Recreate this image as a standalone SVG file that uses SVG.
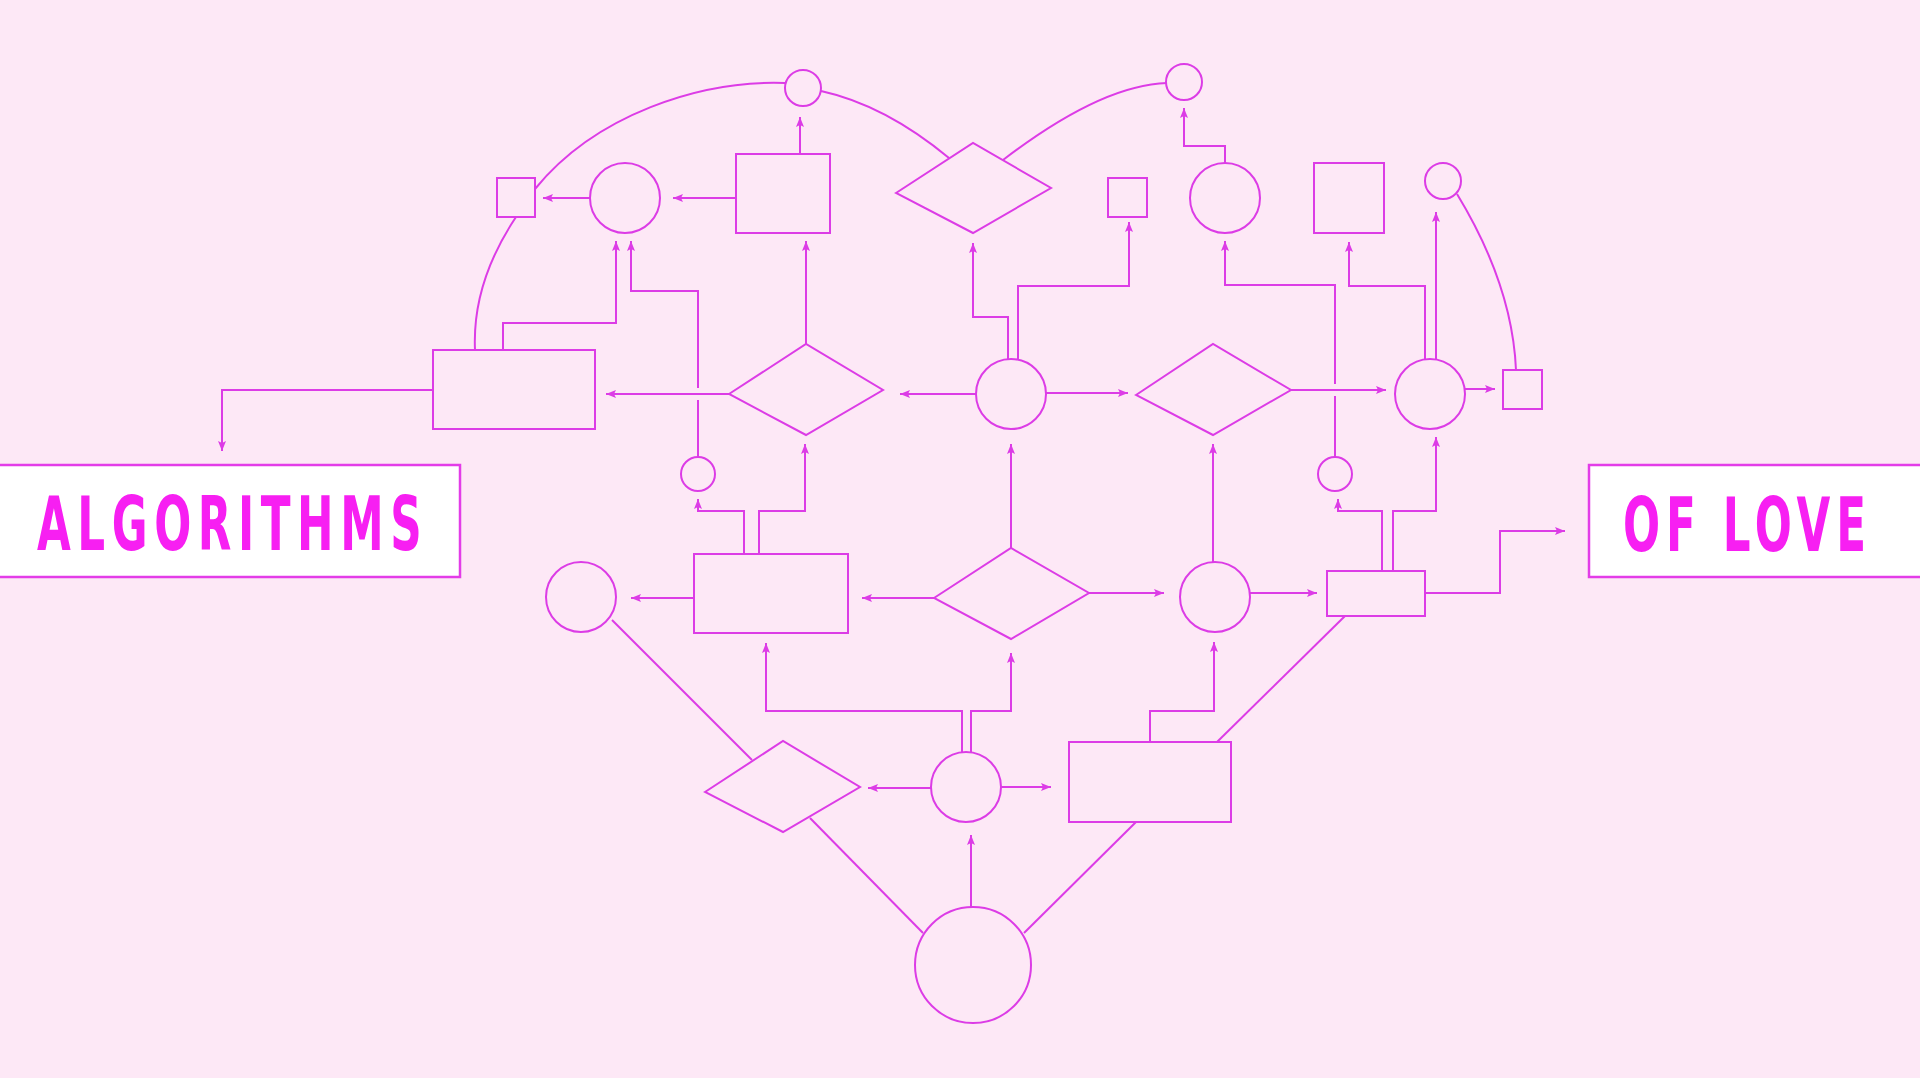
<svg xmlns="http://www.w3.org/2000/svg" width="1920" height="1078" viewBox="0 0 1920 1078">
<style>
.n{fill:none;stroke:#dc3ce6;stroke-width:2}
.c{fill:none;stroke:#dc3ce6;stroke-width:2}
.a{marker-end:url(#ah)}
.lb{fill:#ffffff;stroke:#e33ce8;stroke-width:2.5}
.t{fill:#f71ff2;font-family:"DejaVu Sans","Liberation Sans",sans-serif;font-weight:bold;font-size:74px}
</style>
<defs>
<marker id="ah" viewBox="0 0 10 8" refX="10" refY="4" markerWidth="10" markerHeight="8" markerUnits="userSpaceOnUse" orient="auto">
<path d="M0,0 L10,4 L0,8 L2,4 z" fill="#dc3ce6"/>
</marker>
</defs>
<rect width="1920" height="1078" fill="#fde8f6"/>

<g id="label-algorithms">
<rect class="lb" x="-3" y="465" width="463" height="112"/>
<text class="t" transform="translate(37,550) scale(0.59,1)" x="0" y="0" textLength="652" lengthAdjust="spacing">ALGORITHMS</text>
</g>
<g id="label-of-love">
<rect class="lb" x="1589" y="465" width="335" height="112"/>
<text class="t" transform="translate(1623,551) scale(0.59,1)" x="0" y="0" textLength="412" lengthAdjust="spacing">OF LOVE</text>
</g>

<g id="connectors">
<path class="c a" d="M736,198 H673"/>
<path class="c a" d="M590,198 H543"/>
<path class="c a" d="M800,154 V117"/>
<path class="c a" d="M503,350 V323 H616 V241"/>
<path class="c" d="M698,457 V400"/>
<path class="c a" d="M698,388 V291 H631 V241"/>
<path class="c a" d="M729,394 H606"/>
<path class="c a" d="M806,344 V241"/>
<path class="c a" d="M433,390 H222 V451"/>
<path class="c a" d="M976,394 H900"/>
<path class="c a" d="M1008,359 V317 H973 V243"/>
<path class="c a" d="M1018,359 V286 H1129 V222"/>
<path class="c a" d="M1046,393 H1128"/>
<path class="c a" d="M1225,163 V146 H1184 V108"/>
<path class="c" d="M1335,456 V396"/>
<path class="c a" d="M1335,384 V285 H1225 V241"/>
<path class="c a" d="M1291,390 H1386"/>
<path class="c a" d="M1425,359 V286 H1349 V242"/>
<path class="c a" d="M1436,359 V212"/>
<path class="c a" d="M1465,389 H1495"/>
<path class="c a" d="M1011,548 V444"/>
<path class="c a" d="M1213,562 V444"/>
<path class="c a" d="M934,598 H862"/>
<path class="c a" d="M1089,593 H1164"/>
<path class="c a" d="M1250,593 H1317"/>
<path class="c a" d="M1425,593 H1500 V531 H1565"/>
<path class="c a" d="M1382,571 V511 H1338 V499"/>
<path class="c a" d="M1393,571 V511 H1436 V437"/>
<path class="c a" d="M694,598 H631"/>
<path class="c a" d="M744,554 V511 H698 V499"/>
<path class="c a" d="M759,554 V511 H805 V444"/>
<path class="c a" d="M962,752 V711 H766 V643"/>
<path class="c a" d="M971,752 V711 H1011 V653"/>
<path class="c a" d="M931,788 H868"/>
<path class="c a" d="M1001,787 H1051"/>
<path class="c a" d="M1150,742 V711 H1214 V642"/>
<path class="c a" d="M971,907 V835"/>
<path class="c" d="M612,620 L752,760"/>
<path class="c" d="M810,818 L923,933"/>
<path class="c" d="M1024,933 L1136,822"/>
<path class="c" d="M1217,742 L1345,616"/>
<path class="c" d="M475,350 Q472,283 516,217"/>
<path class="c" d="M535,189 C595,115 700,80 785,83"/>
<path class="c" d="M821,91 Q885,105 949,158"/>
<path class="c" d="M1003,160 Q1101,85 1167,83"/>
<path class="c" d="M1457,194 C1485,240 1513,300 1516,370"/>
</g>

<g id="c1"><circle class="n" cx="625" cy="198" r="35"/></g>
<g id="c2"><circle class="n" cx="803" cy="88" r="18"/></g>
<g id="c3"><circle class="n" cx="1184" cy="82" r="18"/></g>
<g id="c4"><circle class="n" cx="1225" cy="198" r="35"/></g>
<g id="c5"><circle class="n" cx="1443" cy="181" r="18"/></g>
<g id="c6"><circle class="n" cx="1011" cy="394" r="35"/></g>
<g id="c7"><circle class="n" cx="1430" cy="394" r="35"/></g>
<g id="c8"><circle class="n" cx="698" cy="474" r="17"/></g>
<g id="c9"><circle class="n" cx="1335" cy="474" r="17"/></g>
<g id="c10"><circle class="n" cx="581" cy="597" r="35"/></g>
<g id="c11"><circle class="n" cx="1215" cy="597" r="35"/></g>
<g id="c12"><circle class="n" cx="966" cy="787" r="35"/></g>
<g id="c13"><circle class="n" cx="973" cy="965" r="58"/></g>

<g id="r1"><rect class="n" x="497" y="178" width="38" height="39"/></g>
<g id="r2"><rect class="n" x="736" y="154" width="94" height="79"/></g>
<g id="r3"><rect class="n" x="1108" y="178" width="39" height="39"/></g>
<g id="r4"><rect class="n" x="1314" y="163" width="70" height="70"/></g>
<g id="r5"><rect class="n" x="1503" y="370" width="39" height="39"/></g>
<g id="r6"><rect class="n" x="433" y="350" width="162" height="79"/></g>
<g id="r7"><rect class="n" x="694" y="554" width="154" height="79"/></g>
<g id="r8"><rect class="n" x="1327" y="571" width="98" height="45"/></g>
<g id="r9"><rect class="n" x="1069" y="742" width="162" height="80"/></g>

<g id="d1"><polygon class="n" points="896,193 973,143 1051,188 973,233"/></g>
<g id="d2"><polygon class="n" points="729,394 806,344 883,390 806,435"/></g>
<g id="d3"><polygon class="n" points="1136,395 1213,344 1291,390 1213,435"/></g>
<g id="d4"><polygon class="n" points="934,598 1011,548 1089,593 1011,639"/></g>
<g id="d5"><polygon class="n" points="705,792 783,741 860,787 783,832"/></g>
</svg>
